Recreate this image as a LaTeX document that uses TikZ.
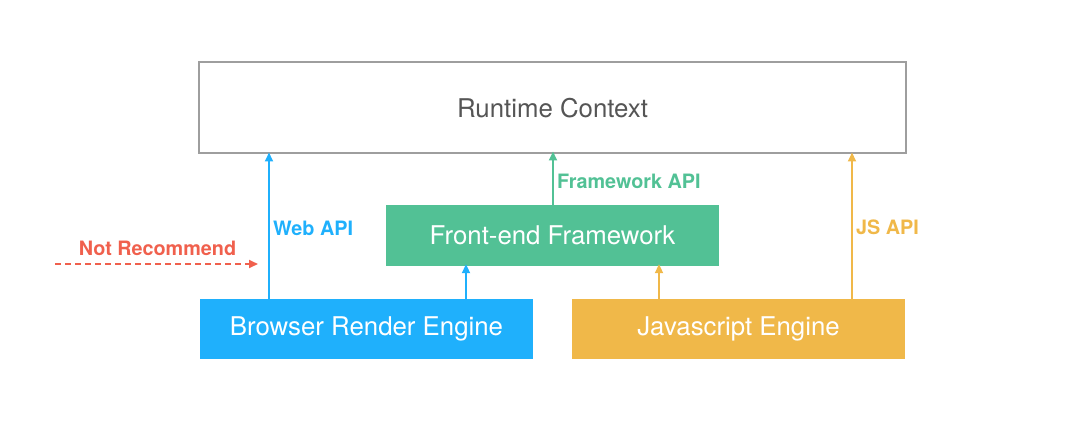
\documentclass[tikz,border=0pt]{standalone}
\usepackage{fontspec}
\setmainfont{TeX Gyre Heros}
\usetikzlibrary{arrows.meta}
\definecolor{rtborder}{HTML}{9E9E9E}
\definecolor{rttext}{HTML}{555555}
\definecolor{fegreen}{HTML}{52C195}
\definecolor{brblue}{HTML}{1FB0FC}
\definecolor{jsyellow}{HTML}{F0B849}
\definecolor{nrred}{HTML}{F0604D}
\begin{document}
\begin{tikzpicture}[x=1pt,y=-1pt,
  boxtext/.style={font=\fontsize{25.8}{30}\selectfont},
  solidbox/.style={rectangle,draw=none,minimum width=333pt,text=white,boxtext,inner sep=0pt},
  lbl/.style={font=\bfseries\fontsize{19.8}{23}\selectfont,inner sep=0pt},
  arr/.style={line width=2pt,-{Triangle[length=9pt,width=8pt]}}
  ]
\useasboundingbox (0,0) rectangle (1080,425);
\node[rectangle,draw=rtborder,line width=2pt,minimum width=707pt,minimum height=91pt,text=rttext,boxtext,inner sep=0pt] (runtime) at (552.5,108) {Runtime Context};
\node[solidbox,fill=fegreen,minimum height=61pt] (fe) at (552.5,235.5) {Front-end Framework};
\node[solidbox,fill=brblue,minimum height=60pt] (br) at (366.5,329) {Browser Render Engine};
\node[solidbox,fill=jsyellow,minimum height=60pt] (js) at (738.5,329) {Javascript Engine};
\coordinate (wx) at (269,0);
\coordinate (fx) at (553,0);
\coordinate (jx) at (852,0);
\coordinate (bx) at (466,0);
\coordinate (yx) at (659,0);
\draw[arr,brblue] (br.north -| wx) -- ([yshift=2pt]runtime.south -| wx);
\draw[arr,fegreen] (fe.north -| fx) -- ([yshift=3pt]runtime.south -| fx);
\draw[arr,jsyellow] (js.north -| jx) -- ([yshift=2pt]runtime.south -| jx);
\draw[arr,brblue] ([yshift=-2pt]br.north -| bx) -- ([yshift=2pt]fe.south -| bx);
\draw[arr,jsyellow] ([yshift=-2pt]js.north -| yx) -- ([yshift=2pt]fe.south -| yx);
\coordinate (nrs) at (55,264);
\coordinate (nre) at (258,264);
\draw[arr,nrred,dash pattern=on 6pt off 4pt] (nrs) -- (nre);
\node[lbl,text=brblue,anchor=west] (wlbl) at (273,228) {Web API};
\node[lbl,text=fegreen,anchor=west] (flbl) at (557,181) {Framework API};
\node[lbl,text=jsyellow,anchor=west] (jlbl) at (856,227) {JS API};
\node[lbl,text=nrred] (nlbl) at (157.5,248) {Not Recommend};
\end{tikzpicture}
\end{document}
